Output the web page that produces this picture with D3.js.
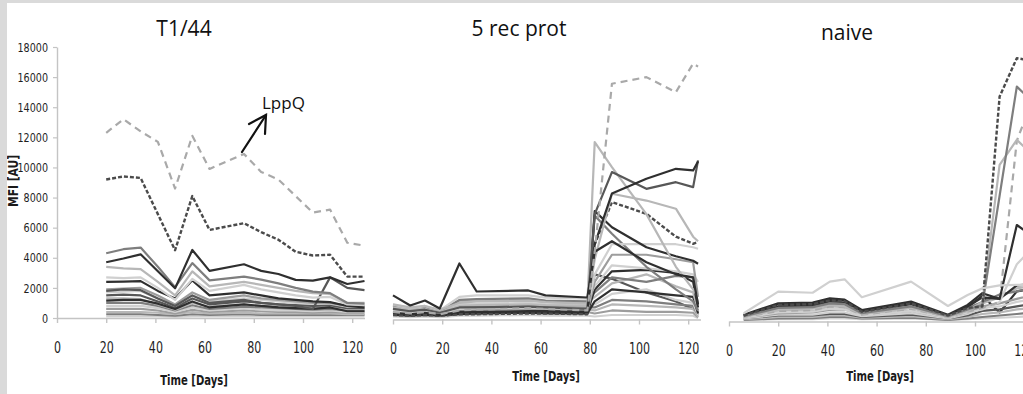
<!DOCTYPE html>
<html>
<head>
<meta charset="utf-8">
<script src="https://cdn.jsdelivr.net/npm/d3@7/dist/d3.min.js"></script>
<style>
  html, body { margin: 0; padding: 0; background: #ffffff; }
  svg { display: block; }
  .tick text { font-family: "Liberation Sans Narrow", "DejaVu Sans Condensed", "Arial Narrow", sans-serif; fill: #1e1e1e; }
  .axis-title { font-family: "Liberation Sans Narrow", "DejaVu Sans Condensed", sans-serif; font-weight: bold; fill: #1a1a1a; }
  .panel-title { font-family: "Open Sans", "Noto Sans", sans-serif; fill: #111; }
</style>
</head>
<body>
<svg id="chart" width="1023" height="394"></svg>
<script>
// ---- data -----------------------------------------------------------------
const panelTitles = ["T1/44", "5 rec prot", "naive"];
const xTickValues = [0, 20, 40, 60, 80, 100, 120];
const yTickValues = [0, 2000, 4000, 6000, 8000, 10000, 12000, 14000, 16000, 18000];

// T1/44 — sampling days and MFI per antigen
const t144Days = [20, 27, 34, 41, 48, 55, 62, 76, 83, 90, 97, 104, 111, 118, 125];
const t144Values = [
  [12300, 13200, 12400, 11700, 8600, 12100, 9900, 10900, 9700, 9200, 8100, 7000, 7200, 5000, 4800],
  [9200, 9400, 9300, 6900, 4500, 8100, 5850, 6300, 5700, 5200, 4400, 4150, 4200, 2750, 2750],
  [3700, 3950, 4230, 3100, 1970, 4520, 3130, 3570, 3130, 2920, 2530, 2480, 2700, 2260, 2460],
  [4300, 4570, 4680, 3400, 2050, 3650, 2500, 2750, 2550, 2300, 2000, 1750, 1650, 1000, 950],
  [3400, 3300, 3250, 2400, 1500, 3100, 2100, 2400, 2200, 2000, 1800, 1650, 1600, 1000, 1000],
  [2700, 2650, 2700, 2000, 1200, 2600, 1800, 2200, 1900, 1700, 1500, 1350, 1400, 900, 850],
  [2400, 2420, 2450, 1800, 1300, 2500, 1500, 1700, 1500, 1300, 1200, 1100, 1050, 800, 700],
  [1800, 1900, 1850, 1300, 800, 1500, 1000, 1200, 1000, 900, 800, 600, 2700, 2000, 1850],
  [1150, 1200, 1200, 950, 600, 1100, 700, 900, 800, 700, 650, 600, 700, 450, 450],
  [1900, 1950, 2000, 1500, 900, 1700, 1200, 1500, 1300, 1200, 1100, 1000, 1000, 800, 800],
  [1700, 1750, 1800, 1300, 800, 1500, 1100, 1300, 1200, 1100, 1000, 950, 950, 750, 750],
  [1500, 1550, 1500, 1100, 700, 1300, 900, 1100, 1000, 900, 850, 800, 850, 650, 650],
  [1300, 1300, 1250, 900, 550, 1000, 750, 900, 800, 750, 700, 700, 750, 600, 600],
  [1000, 1000, 1000, 800, 500, 850, 600, 750, 700, 650, 600, 550, 600, 500, 500],
  [800, 800, 800, 650, 400, 700, 500, 650, 550, 500, 500, 450, 500, 400, 400],
  [600, 600, 600, 500, 300, 550, 400, 500, 450, 400, 400, 350, 400, 350, 350],
  [400, 400, 400, 350, 250, 400, 300, 350, 300, 300, 300, 300, 300, 250, 250],
  [250, 250, 250, 200, 150, 250, 200, 250, 200, 200, 200, 200, 200, 200, 200],
  [100, 100, 100, 100, 80, 100, 100, 100, 100, 100, 100, 100, 100, 100, 100]
];
const t144Looks = ["dl", "dd", "k", "m", "l", "p", "k", "d", "k", "g", "p", "d", "l", "m", "p", "g", "l", "m", "p"];

// 5 rec prot
const recDays = [0, 7, 13, 19, 27, 34, 55, 62, 79, 82, 89, 103, 115, 122, 124];
const recValues = [
  [500, 400, 500, 350, 600, 650, 750, 700, 600, 4500, 15660, 16100, 15100, 17000, 16800],
  [1600, 930, 1260, 730, 3720, 1860, 1930, 1600, 1460, 4500, 5200, 3800, 3000, 2800, 1000],
  [450, 350, 450, 300, 500, 500, 550, 550, 500, 5000, 8370, 9350, 10010, 9900, 10500],
  [700, 550, 650, 450, 800, 800, 850, 800, 700, 7000, 9790, 8680, 9120, 8790, 10570],
  [1000, 800, 900, 650, 1100, 1200, 1250, 1150, 1050, 11780, 10120, 7000, 3500, 2000, 1500],
  [800, 650, 700, 500, 900, 950, 1000, 950, 900, 4000, 8350, 7900, 7360, 5500, 5200],
  [300, 250, 300, 250, 350, 350, 400, 400, 350, 5000, 7800, 7020, 5500, 5030, 5140],
  [350, 300, 350, 300, 400, 400, 450, 450, 400, 7200, 6130, 4800, 4200, 3900, 3700],
  [600, 500, 550, 400, 700, 750, 800, 750, 700, 3000, 5000, 5000, 5000, 4800, 4700],
  [500, 400, 450, 350, 600, 600, 650, 600, 550, 2500, 4300, 4300, 4000, 3800, 1500],
  [700, 600, 650, 500, 750, 800, 850, 800, 750, 6900, 5700, 3500, 2000, 1200, 600],
  [1000, 700, 900, 600, 1500, 1600, 1600, 1450, 1380, 2200, 3600, 3400, 3200, 3000, 2500],
  [400, 350, 400, 300, 450, 450, 500, 500, 450, 2000, 3200, 3300, 3100, 2500, 800],
  [900, 700, 800, 550, 1300, 1350, 1400, 1250, 1200, 1800, 2800, 2500, 2900, 2800, 1000],
  [800, 600, 700, 500, 1200, 1250, 1300, 1150, 1100, 1500, 2400, 3000, 2200, 1800, 600],
  [300, 250, 300, 250, 350, 400, 450, 400, 400, 1200, 2000, 1800, 1600, 1500, 400],
  [700, 550, 650, 450, 1000, 1050, 1100, 1000, 950, 1000, 1700, 2000, 1300, 1100, 300],
  [600, 500, 550, 400, 800, 850, 900, 850, 800, 800, 1300, 1200, 1000, 900, 300],
  [500, 400, 450, 350, 650, 700, 750, 700, 650, 600, 1000, 900, 800, 700, 200],
  [400, 300, 350, 300, 500, 500, 550, 500, 500, 400, 600, 500, 500, 450, 150],
  [200, 150, 200, 150, 250, 250, 300, 250, 250, 200, 300, 300, 300, 250, 100],
  [450, 400, 450, 350, 500, 550, 600, 550, 500, 3000, 2700, 1800, 1200, 700, 500]
];
const recLooks = ["dl", "k", "k", "d", "l", "l", "dd", "k", "p", "g", "m", "p", "k", "m", "l", "k", "p", "m", "l", "g", "p", "d"];

// naive
const naiveDays = [6, 20, 34, 41, 47, 54, 74, 89, 97, 103, 110, 117, 124];
const naiveValues = [
  [550, 1980, 1910, 2650, 2800, 1610, 2650, 1030, 1760, 2200, 2400, 2430, 2450],
  [400, 1100, 1150, 1400, 1350, 650, 1200, 400, 900, 1000, 14940, 17490, 17300],
  [350, 900, 950, 1200, 1150, 550, 1000, 350, 800, 1100, 8350, 15600, 14500],
  [300, 800, 850, 1100, 1000, 500, 900, 300, 700, 1300, 10400, 12060, 11000],
  [450, 1210, 1250, 1540, 1450, 760, 1320, 450, 1100, 1880, 1500, 6410, 5600],
  [300, 700, 750, 1000, 950, 450, 850, 300, 650, 900, 1300, 12000, 15000],
  [250, 600, 650, 850, 800, 400, 700, 250, 600, 800, 1300, 3800, 5000],
  [400, 1150, 1150, 1450, 1400, 700, 1250, 400, 1000, 1600, 1500, 2400, 2500],
  [350, 880, 900, 1210, 1150, 600, 985, 350, 900, 1300, 1800, 2000, 2300],
  [300, 700, 700, 1000, 950, 545, 900, 300, 700, 1200, 1600, 2200, 2400],
  [250, 545, 600, 765, 800, 450, 700, 250, 600, 1000, 1200, 1500, 1800],
  [200, 450, 450, 600, 600, 350, 550, 200, 500, 900, 1000, 1300, 1500],
  [200, 400, 400, 500, 500, 300, 450, 200, 400, 700, 800, 1000, 1200],
  [150, 300, 300, 400, 400, 250, 350, 150, 300, 500, 600, 800, 900],
  [100, 210, 220, 300, 300, 200, 250, 100, 200, 300, 400, 500, 600],
  [100, 150, 150, 200, 200, 150, 200, 100, 150, 200, 250, 300, 350],
  [400, 1000, 1050, 1300, 1250, 650, 1150, 400, 950, 1700, 600, 2000, 2200]
];
const naiveLooks = ["p", "dd", "m", "l", "k", "dl", "p", "k", "m", "l", "g", "p", "d", "l", "m", "p", "k"];

// ---- styles -----------------------------------------------------------------
const looks = {
  k:  { stroke: "#2f2f2f", width: 2.2 },
  d:  { stroke: "#575757", width: 2.2 },
  m:  { stroke: "#7e7e7e", width: 2.2 },
  g:  { stroke: "#9d9d9d", width: 2.2 },
  l:  { stroke: "#b7b7b7", width: 2.2 },
  p:  { stroke: "#d0d0d0", width: 2.2 },
  dl: { stroke: "#a9a9a9", width: 2.2, dash: "7,5" },
  dd: { stroke: "#4b4b4b", width: 2.4, dash: "4,2" }
};

const svg = d3.select("#chart");

// page frame
svg.append("rect").attr("x", 0).attr("y", 0).attr("width", 1023).attr("height", 394).attr("fill", "#ffffff");

const panels = [
  { title: panelTitles[0], days: t144Days, values: t144Values, looks: t144Looks,
    x0: 57, base: 318, titleX: 184, titleY: 36, axisTitleX: 194, axisTitleY: 385, yAxis: true },
  { title: panelTitles[1], days: recDays, values: recValues, looks: recLooks,
    x0: 393, base: 319.5, titleX: 519, titleY: 36, axisTitleX: 546, axisTitleY: 381, yAxis: false },
  { title: panelTitles[2], days: naiveDays, values: naiveValues, looks: naiveLooks,
    x0: 729, base: 321.5, titleX: 847, titleY: 40, axisTitleX: 880, axisTitleY: 381, yAxis: false }
];

const dayPx = 2.46;
const plotH = 271;

panels.forEach(p => {
  const x = d3.scaleLinear().domain([0, 125]).range([p.x0, p.x0 + 125 * dayPx]);
  const y = d3.scaleLinear().domain([0, 18000]).range([p.base, p.base - plotH]);
  const g = svg.append("g");

  // x axis
  const xa = g.append("g")
    .attr("transform", `translate(0,${p.base})`)
    .call(d3.axisBottom(x).tickValues(xTickValues).tickSize(5).tickSizeOuter(0));
  xa.select(".domain").attr("stroke", "#c4c4c4").attr("stroke-width", 1.6);
  xa.selectAll(".tick line").attr("stroke", "#c4c4c4").attr("stroke-width", 1.4);
  xa.selectAll(".tick text")
    .attr("y", 24).attr("dy", "0.71em")
    .style("font-size", "15px")
    .attr("transform", "scale(0.82,1)");

  // y axis (first panel only)
  if (p.yAxis) {
    const ya = g.append("g")
      .attr("transform", `translate(${p.x0},0)`)
      .call(d3.axisLeft(y).tickValues(yTickValues).tickFormat(d3.format("d")).tickSize(4).tickSizeOuter(0));
    ya.select(".domain").attr("stroke", "#c4c4c4").attr("stroke-width", 1.4);
    ya.selectAll(".tick line").attr("stroke", "#c4c4c4").attr("stroke-width", 1.2);
    ya.selectAll(".tick text")
      .attr("x", -11)
      .style("font-size", "13px")
      .attr("transform", "scale(0.82,1)");
  }

  // series
  const line = d3.line()
    .x((v, i) => x(p.days[i]))
    .y(v => y(v));
  const order = p.values.map((v, i) => i).reverse();
  g.append("g").selectAll("path")
    .data(order)
    .join("path")
    .attr("d", i => line(p.values[i]))
    .attr("fill", "none")
    .attr("stroke", i => looks[p.looks[i]].stroke)
    .attr("stroke-width", i => looks[p.looks[i]].width)
    .attr("stroke-dasharray", i => looks[p.looks[i]].dash || null)
    .attr("stroke-linejoin", "round");

  // titles
  g.append("text").attr("class", "panel-title")
    .attr("x", p.titleX).attr("y", p.titleY)
    .attr("text-anchor", "middle").style("font-size", "21px")
    .text(p.title);

  g.append("text").attr("class", "axis-title")
    .attr("transform", `translate(${p.axisTitleX},${p.axisTitleY}) scale(0.8,1)`)
    .attr("text-anchor", "middle").style("font-size", "14px")
    .text("Time [Days]");
});

// y axis title
svg.append("text").attr("class", "axis-title")
  .attr("transform", "translate(18,181) rotate(-90) scale(0.85,1)")
  .attr("text-anchor", "middle").style("font-size", "14px")
  .text("MFI [AU]");

// LppQ callout
svg.append("text").attr("class", "panel-title")
  .attr("x", 262).attr("y", 109).style("font-size", "17px")
  .text("LppQ");
const arrow = svg.append("g").attr("stroke", "#111").attr("stroke-width", 2.2)
  .attr("fill", "none").attr("stroke-linecap", "round");
arrow.append("line").attr("x1", 242).attr("y1", 152).attr("x2", 266).attr("y2", 115);
arrow.append("polyline").attr("points", "249,124 266,115 265,134");

// grey page border
svg.append("rect").attr("x", 0).attr("y", 0).attr("width", 1023).attr("height", 3).attr("fill", "#dadada");
svg.append("rect").attr("x", 0).attr("y", 0).attr("width", 7).attr("height", 394).attr("fill", "#dadada");
</script>
</body>
</html>
